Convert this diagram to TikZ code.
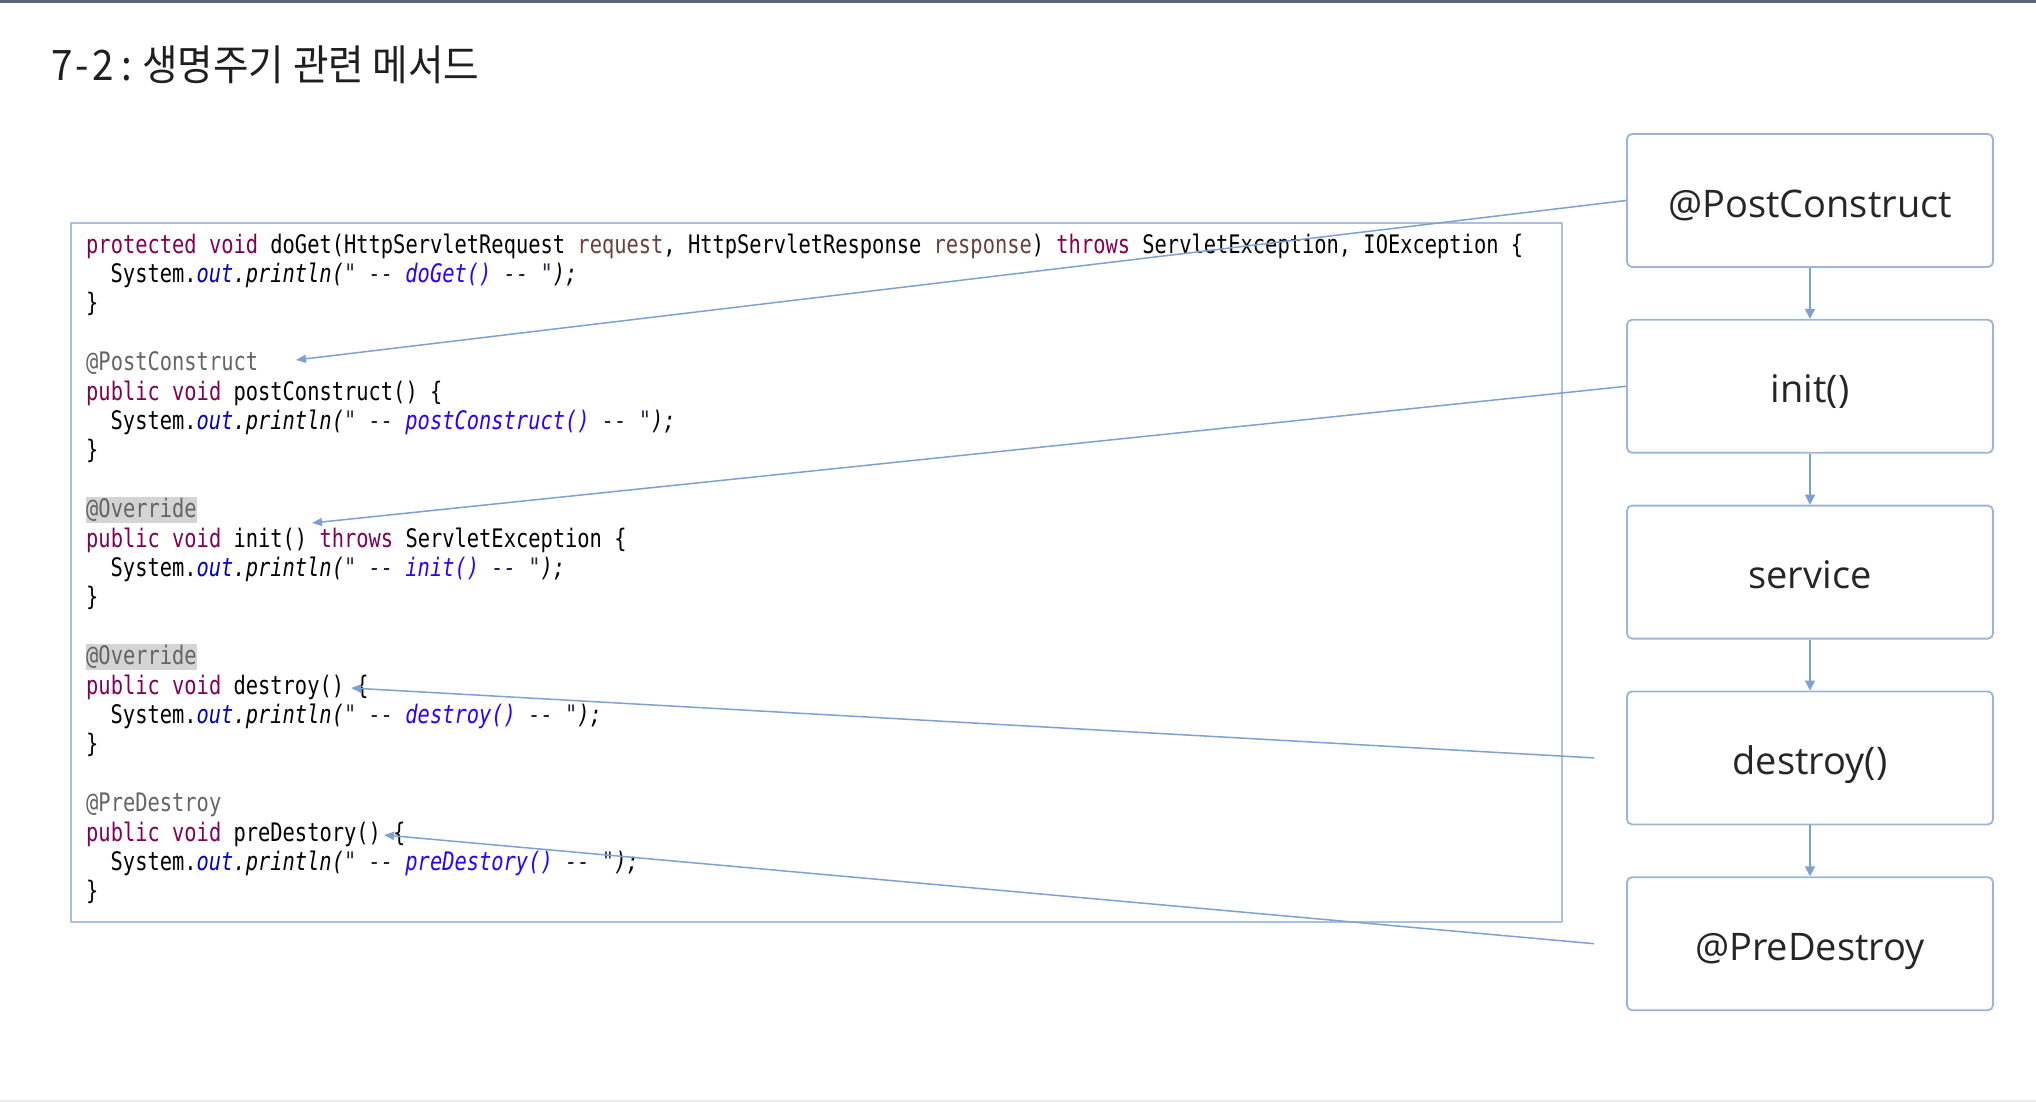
\documentclass[tikz,border=0pt]{standalone}
\usepackage{fontspec}
\setmonofont[FakeStretch=0.8]{DejaVu Sans Mono}
\newfontfamily\boxfont{Open Sans}
\newfontfamily\titlefont[FakeStretch=0.92]{Noto Sans CJK KR}
\usetikzlibrary{positioning,arrows.meta}
\definecolor{kwcol}{HTML}{7F0055}
\definecolor{prmcol}{HTML}{6A3E3E}
\definecolor{fldcol}{HTML}{0000C0}
\definecolor{strcol}{HTML}{2A00FF}
\definecolor{dashcol}{HTML}{23234A}
\definecolor{anncol}{HTML}{646464}
\definecolor{hlcol}{HTML}{D4D4D4}
\definecolor{boxline}{HTML}{9BB5D9}
\definecolor{linkcol}{HTML}{7DA2D2}
\definecolor{frame}{HTML}{A9C0E0}
\definecolor{topband}{HTML}{5B6577}
\newcommand\kw[1]{\textcolor{kwcol}{#1}}
\newcommand\prm[1]{\textcolor{prmcol}{#1}}
\newcommand\ann[1]{\textcolor{anncol}{#1}}
\newcommand\sysout[1]{System.\textcolor{fldcol}{\itshape out}{\itshape .println(\textcolor{dashcol}{"\ --\ }\textcolor{strcol}{#1}\textcolor{dashcol}{\ --\ "});}}
\begin{document}
\begin{tikzpicture}[x=1pt, y=-1pt, line join=round, >={Triangle[length=10pt,width=10pt]},
	code/.style={anchor=base west, inner sep=0pt, font=\ttfamily\fontsize{25.5}{30}\selectfont},
	mark hl/.style={fill=hlcol, inner ysep=1pt},
	phase/.style={draw=boxline, line width=1.8pt, rounded corners=5pt, minimum width=366pt, minimum height=133pt, text height=33pt, text depth=0pt, font=\boxfont\fontsize{38}{40}\selectfont, text=black!85},
	flow/.style={draw=linkcol, line width=1.5pt, ->},
	hook/.style={draw=linkcol, line width=1.5pt, -{Triangle[length=10pt,width=8pt]}}]
	\useasboundingbox (0,0) rectangle (2036,1102);
	\fill[topband] (0,0) rectangle (2036,3.5);
	\fill[black!8] (0,1099.5) rectangle (2036,1102);
	% title
	\node[anchor=base west, inner sep=0pt, font=\titlefont\fontsize{42}{48}\selectfont, text=black!88] (title) at (51,81) {7\kern3pt-\kern3pt2\kern8pt:\kern10pt 생명주기 관련 메서드};
	% code
	\draw[frame, line width=1.5pt] (71,223) rectangle (1562,922);
	\node[code] (l0) at (86,253) {\kw{protected void} doGet(HttpServletRequest \prm{request}, HttpServletResponse \prm{response}) \kw{throws} ServletException, IOException \{};
	\node[code] (l1) at (110.5,282.4) {\sysout{doGet()}};
	\node[code] (l2) at (86,311.8) {\}};
	\node[code] (l4) at (86,370.6) {\ann{@PostConstruct}};
	\node[code] (l5) at (86,400) {\kw{public void} postConstruct() \{};
	\node[code] (l6) at (110.5,429.4) {\sysout{postConstruct()}};
	\node[code] (l7) at (86,458.8) {\}};
	\node[code, mark hl] (l9) at (86,517.6) {\ann{@Override}};
	\node[code] (l10) at (86,547) {\kw{public void} init() \kw{throws} ServletException \{};
	\node[code] (l11) at (110.5,576.4) {\sysout{init()}};
	\node[code] (l12) at (86,605.8) {\}};
	\node[code, mark hl] (l14) at (86,664.6) {\ann{@Override}};
	\node[code] (l15) at (86,694) {\kw{public void} destroy() \{};
	\node[code] (l16) at (110.5,723.4) {\sysout{destroy()}};
	\node[code] (l17) at (86,752.8) {\}};
	\node[code] (l19) at (86,811.6) {\ann{@PreDestroy}};
	\node[code] (l20) at (86,841) {\kw{public void} preDestory() \{};
	\node[code] (l21) at (110.5,870.4) {\sysout{preDestory()}};
	\node[code] (l22) at (86,899.8) {\}};
	% lifecycle
	\node[phase] (pc) at (1810,200.5) {@PostConstruct};
	\node[phase, below=51pt of pc] (in) {init()};
	\node[phase, below=51pt of in] (sv) {service};
	\node[phase, below=51pt of sv] (ds) {destroy()};
	\node[phase, below=51pt of ds] (pd) {@PreDestroy};
	\draw[flow] (pc) -- (in);
	\draw[flow] (in) -- (sv);
	\draw[flow] (sv) -- (ds);
	\draw[flow] (ds) -- (pd);
	% links into the code
	\coordinate (pcTip) at (296,360);
	\coordinate (inTip) at (312,523);
	\coordinate (dsTip) at (351,688);
	\coordinate (pdTip) at (384,835);
	\coordinate (dsFrom) at ([xshift=-32pt]ds.west);
	\coordinate (pdFrom) at ([xshift=-32pt]pd.west);
	\draw[hook] (pc.west) -- (pcTip);
	\draw[hook] (in.west) -- (inTip);
	\draw[hook] (dsFrom) -- (dsTip);
	\draw[hook] (pdFrom) -- (pdTip);
\end{tikzpicture}
\end{document}
